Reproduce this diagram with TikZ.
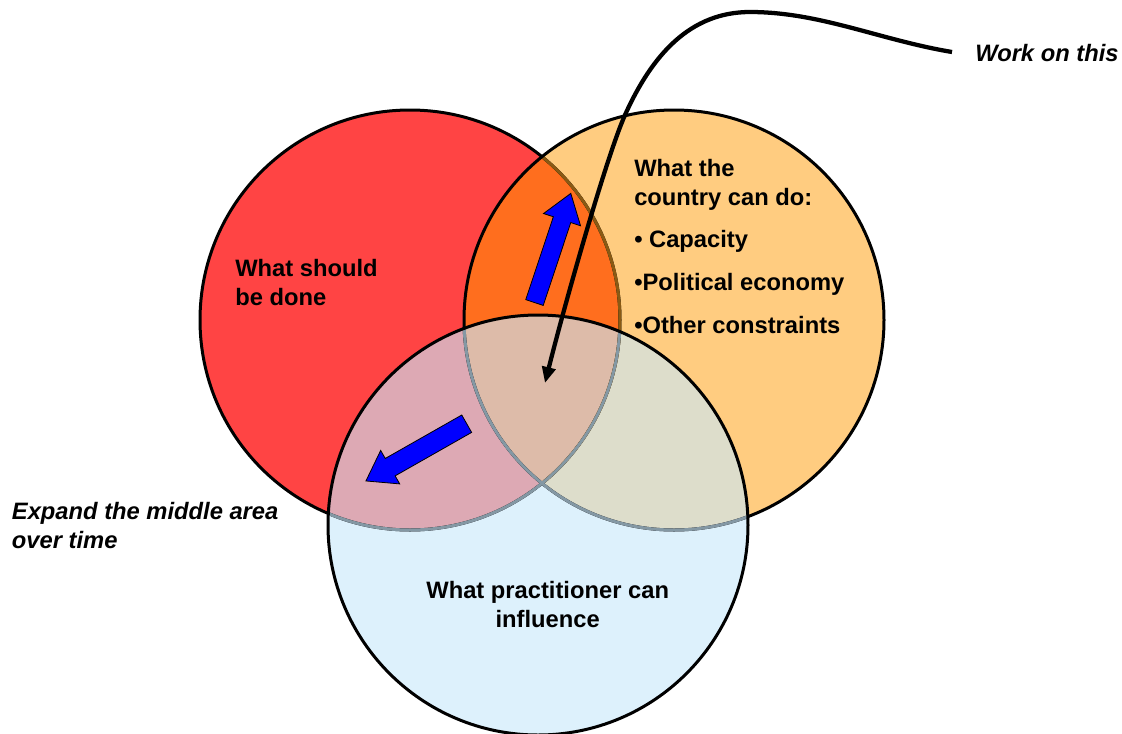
\documentclass[tikz,border=0pt]{standalone}
\usepackage{fontspec}
\setmainfont{Liberation Sans}
\usetikzlibrary{arrows.meta}
\definecolor{redC}{HTML}{FF4444}
\definecolor{orC}{HTML}{FFCC80}
\definecolor{roC}{HTML}{FF6E1E}
\definecolor{blC}{HTML}{DDF1FC}
\definecolor{rbC}{HTML}{DDA9B4}
\definecolor{obC}{HTML}{DDDDCB}
\definecolor{cC}{HTML}{DDBBA9}
\definecolor{brC}{HTML}{8A5A14}
\definecolor{grC}{HTML}{8498A4}
\begin{document}
\begin{tikzpicture}[x=0.75pt,y=-0.75pt,
  edge/.style={line width=2.25pt},
  blockarrow/.style={fill=blue, draw=black, line width=0.6pt, line join=miter},
  lbl/.style={font=\fontsize{17.8}{21.75}\selectfont\bfseries, inner sep=0pt, align=left},
  lbli/.style={font=\fontsize{17.8}{21.75}\selectfont\bfseries\itshape, inner sep=0pt, align=left},
  curvearrow/.style={line width=3.2pt, -{Triangle[length=12pt,width=10pt]}}]
\useasboundingbox (0,0) rectangle (1122,733);
\coordinate (R) at (410,320);
\coordinate (O) at (674,320);
\coordinate (B) at (538,525);
% fills
\fill[redC] (R) circle[radius=157.5pt];
\fill[orC] (O) circle[radius=157.5pt];
\begin{scope}
  \clip (R) circle[radius=157.5pt];
  \fill[roC] (O) circle[radius=157.5pt];
\end{scope}
\fill[blC] (B) circle[radius=157.5pt];
\begin{scope}
  \clip (B) circle[radius=157.5pt];
  \fill[rbC] (R) circle[radius=157.5pt];
  \fill[obC] (O) circle[radius=157.5pt];
  \clip (R) circle[radius=157.5pt];
  \fill[cC] (O) circle[radius=157.5pt];
\end{scope}
% borders
\draw[edge] (R) circle[radius=157.5pt];
\begin{scope}
  \clip (O) circle[radius=157.5pt];
  \draw[edge, brC] (R) circle[radius=157.5pt];
\end{scope}
\draw[edge] (O) circle[radius=157.5pt];
\begin{scope}
  \clip (B) circle[radius=157.5pt];
  \draw[edge, grC] (R) circle[radius=157.5pt];
  \draw[edge, grC] (O) circle[radius=157.5pt];
\end{scope}
\draw[edge] (B) circle[radius=157.5pt];
% blue block arrows
\begin{scope}[shift={(534.5,302.5)}, rotate=71.6]
  \path[blockarrow] (0,-9.2) -- (87.3,-9.2) -- (87.3,-19.5) -- (115,0) -- (87.3,19.5) -- (87.3,9.2) -- (0,9.2) -- cycle;
\end{scope}
\begin{scope}[shift={(466.7,423.7)}, rotate=209.6]
  \path[blockarrow] (0,-10) -- (88,-10) -- (88,-19.25) -- (115.9,0) -- (88,19.25) -- (88,10) -- (0,10) -- cycle;
\end{scope}
% texts (base anchor = baseline of last line)
\node[lbl, anchor=base west] (should) at (235,305.7) {What should\\be done};
\node[lbl, anchor=base west] (cty) at (634,205) {What the\\country can do:};
\node[lbl, anchor=base west] (cap) at (634,247) {• Capacity};
\node[lbl, anchor=base west] (pol) at (634,290) {•Political economy};
\node[lbl, anchor=base west] (oth) at (634,333) {•Other constraints};
\node[lbl, anchor=base, align=center] (prac) at (547.7,627) {What practitioner can\\influence};
\node[lbli, anchor=base west] (work) at (975,61.7) {Work on this};
\node[lbli, anchor=base west] (expand) at (11.7,548) {Expand the middle area\\over time};
% curved connector
\coordinate (ws) at (952,52);
\coordinate (peak) at (750,12);
\coordinate (bend) at (625,115);
\coordinate (tipc) at (545,383);
\draw[curvearrow] (ws) .. controls (880,40) and (820,12) .. (peak)
  .. controls (690,12) and (652,55) .. (bend)
  .. controls (607,155) and (565,303) .. (tipc);
\end{tikzpicture}
\end{document}
